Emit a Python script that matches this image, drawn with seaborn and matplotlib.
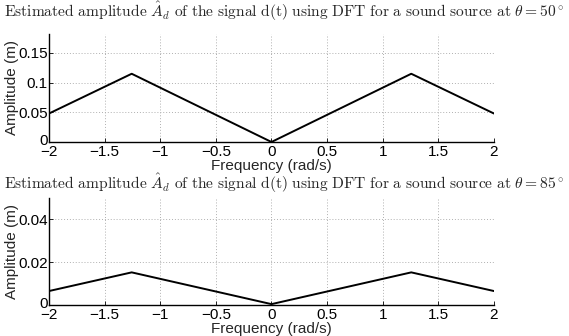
import matplotlib
matplotlib.use("Agg")
import matplotlib.pyplot as plt
import matplotlib.transforms as mtransforms
import seaborn as sns
import pandas as pd

freq = [-2.0, -1.2566, 0.0, 1.2566, 2.0]
amp_50 = [0.048, 0.115, 0.0, 0.115, 0.048]
amp_85 = [0.0065, 0.0152, 0.0004, 0.0152, 0.0065]
titles = [r"$\mathrm{Estimated\ amplitude\ }\hat{A}_d\mathrm{\ of\ the\ signal\ d(t)\ using\ DFT\ for\ a\ sound\ source\ at\ }\theta=50^\circ$",
          r"$\mathrm{Estimated\ amplitude\ }\hat{A}_d\mathrm{\ of\ the\ signal\ d(t)\ using\ DFT\ for\ a\ sound\ source\ at\ }\theta=85^\circ$"]
xticks = [-2, -1.5, -1, -0.5, 0, 0.5, 1, 1.5, 2]
xticklabels = ["\u22122", "\u22121.5", "\u22121", "\u22120.5", "0", "0.5", "1", "1.5", "2"]
yticks_50 = [0, 0.05, 0.1, 0.15]
yticklabels_50 = ["0", "0.05", "0.1", "0.15"]
yticks_85 = [0, 0.02, 0.04]
yticklabels_85 = ["0", "0.02", "0.04"]

sns.set_style("ticks")
plt.rcParams['font.family'] = ['Liberation Sans', 'DejaVu Sans']
plt.rcParams['mathtext.fontset'] = 'cm'

fig = plt.figure(figsize=(5.69, 3.36), dpi=100)
ax1 = fig.add_axes([0.0861, 0.5774, 0.782, 0.3214])
ax2 = fig.add_axes([0.0861, 0.0923, 0.782, 0.318])

specs = [(ax1, amp_50, 0.182, yticks_50, yticklabels_50, titles[0], 1 - 11/336),
         (ax2, amp_85, 0.0498, yticks_85, yticklabels_85, titles[1], 1 - 183/336)]

for ax, amp, ymax, yt, ytl, title, ty in specs:
    df = pd.DataFrame({"f": freq, "a": amp})
    sns.lineplot(data=df, x="f", y="a", ax=ax, color="black", linewidth=1.4)
    ax.set_xlim(-2, 2)
    ax.set_ylim(0, ymax)
    ax.set_xticks(xticks)
    ax.set_xticklabels(xticklabels)
    ax.set_yticks(yt)
    ax.set_yticklabels(ytl)
    ax.grid(True, linestyle=(0, (1, 2)), color="#b0b0b0", linewidth=0.7)
    sns.despine(ax=ax)
    for s in ["left", "bottom"]:
        ax.spines[s].set_linewidth(1.0)
        ax.spines[s].set_color("black")
    ax.tick_params(direction="in", length=3, width=0.6, labelsize=11, colors="black")
    ax.tick_params(axis="x", pad=2.5)
    ax.tick_params(axis="y", pad=1)
    zero = ax.get_yticklabels()[0]
    zero.set_transform(zero.get_transform() + mtransforms.ScaledTranslation(0, 2 / 72, fig.dpi_scale_trans))
    ax.set_xlabel("Frequency (rad/s)", fontsize=11, labelpad=-0.5)
    ax.set_ylabel("Amplitude (m)", fontsize=11, labelpad=-0.5)
    fig.text(0.5, ty, title, fontsize=11.2, ha="center", va="center")

fig.savefig("out.png", dpi=100)
